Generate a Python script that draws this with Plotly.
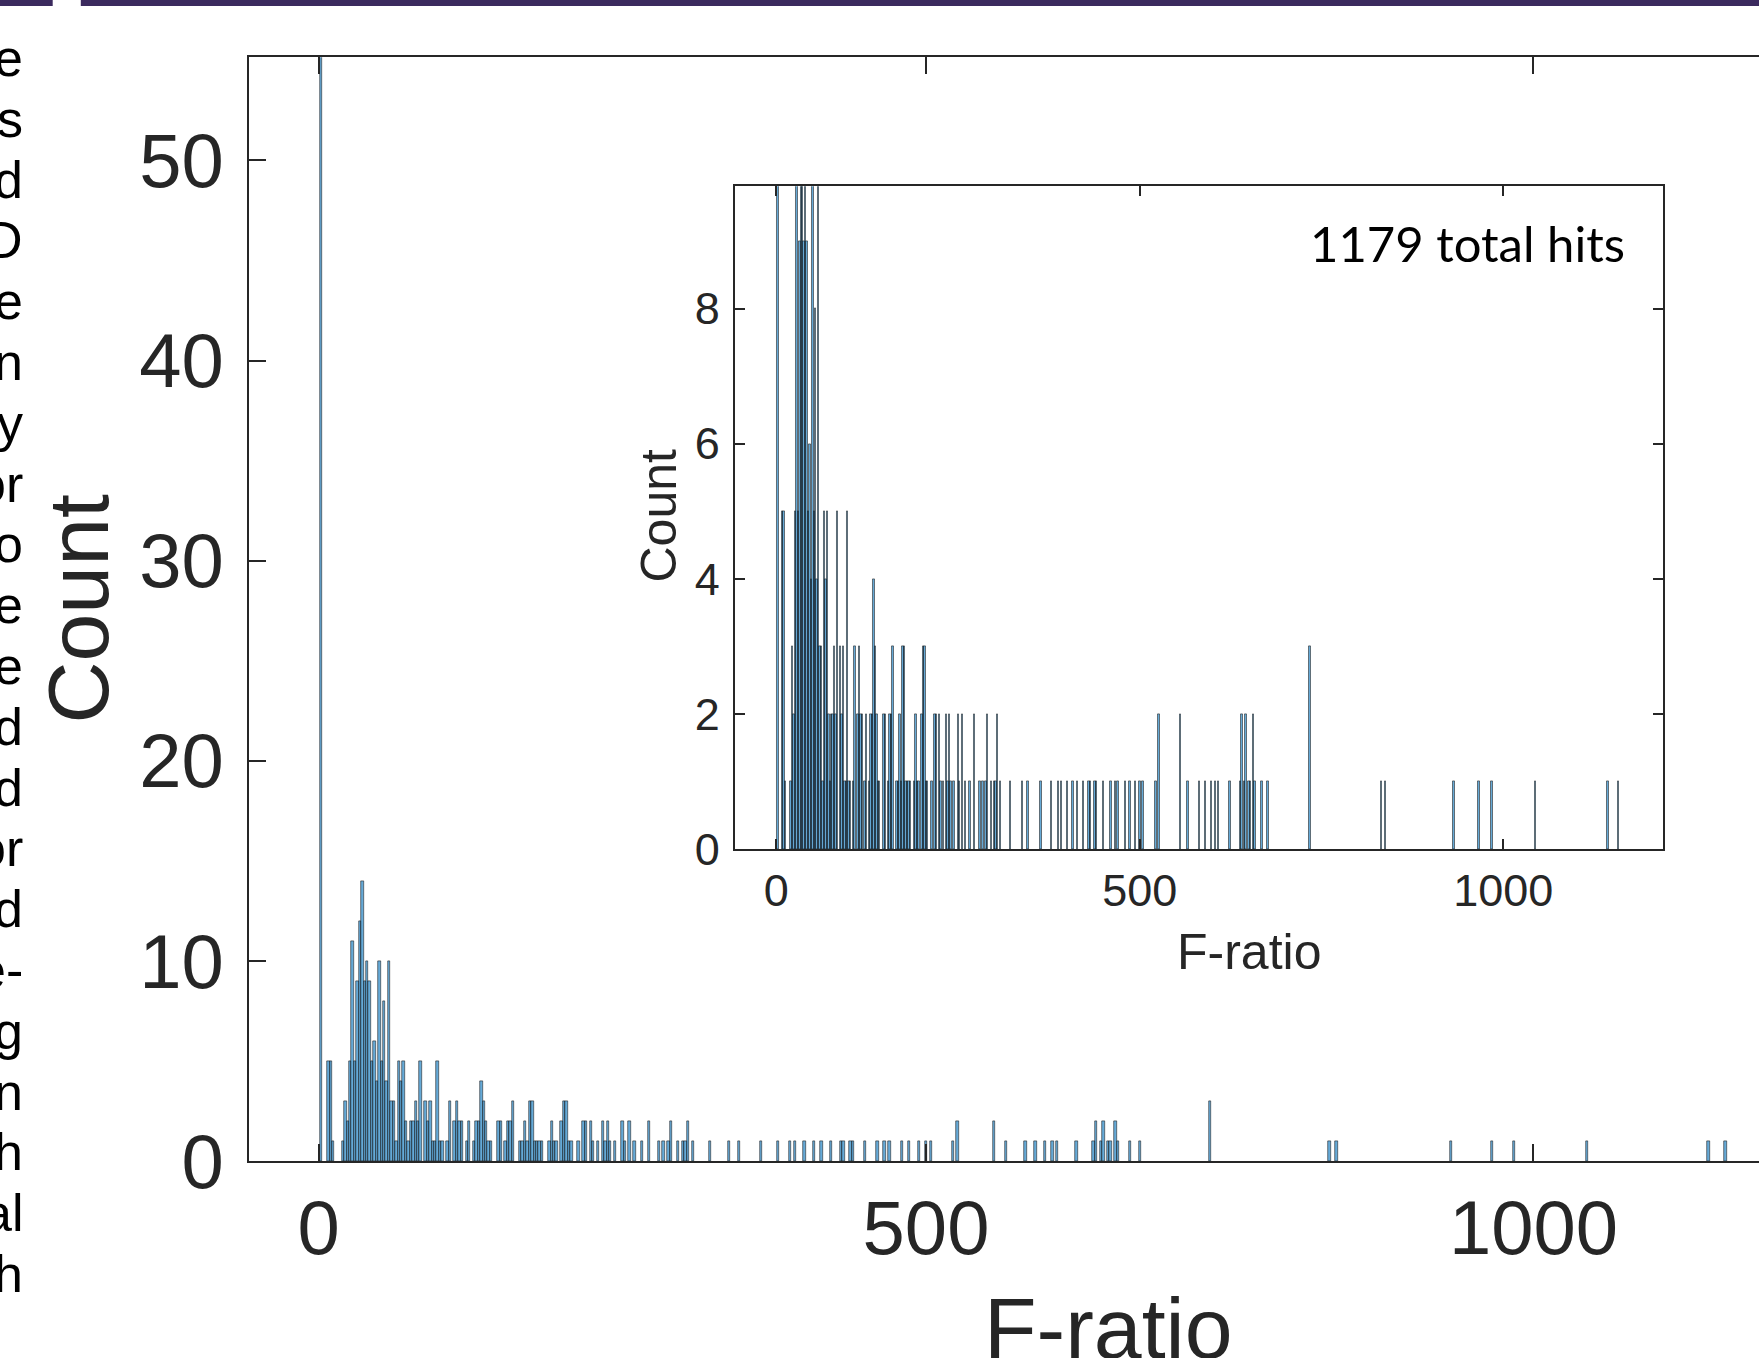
import plotly.graph_objects as go

# ---------------- data (histogram of F-ratio, bin width 2) ----------------
bin_centers = [2, 8, 10, 12,
               20, 22, 24, 26, 28, 30, 32, 34, 36, 38, 40, 42, 44, 46, 48, 50, 52, 54, 56, 58, 60,
               62, 64, 66, 68, 70, 72, 74, 76, 78, 80, 82, 84,
               88, 90, 92, 94, 96, 98, 100, 102, 106, 108, 112, 114, 116, 118, 122, 124, 128, 130,
               132, 134, 136, 138, 140, 142,
               148, 150, 154, 156, 158, 160, 166, 168, 170, 172, 174, 176, 178, 180, 182, 184,
               190, 192, 194, 196, 200, 202, 204, 206, 208, 214, 218, 220, 224, 226, 230, 234,
               236, 238, 240, 244, 250, 252, 256, 260, 266, 272, 280, 284, 288, 290, 296, 300,
               302, 304, 308,
               322, 338, 346, 364, 378, 388, 392, 400, 408, 414, 422, 430, 432, 438, 440, 450,
               460, 466, 470, 480, 486, 494, 500, 504, 522, 526, 556, 566, 582, 590, 598, 604,
               608, 624, 638, 640, 644, 646, 650, 652, 656, 658, 668, 676, 734,
               832, 838, 932, 966, 984, 1044, 1144, 1158]
counts = [801, 5, 5, 1,
          1, 3, 2, 5, 11, 5, 9, 12, 14, 9, 10, 9, 5, 6, 4, 10, 5, 8, 4, 10, 3,
          3, 1, 5, 4, 5, 2, 1, 2, 2, 3, 2, 5,
          3, 2, 3, 1, 1, 5, 1, 1, 1, 3, 2, 3, 2, 2, 1, 2, 1, 2,
          2, 4, 3, 2, 1, 1,
          2, 2, 1, 2, 2, 3, 1, 1, 2, 1, 3, 3, 1, 1, 1, 1,
          1, 2, 1, 1, 2, 3, 3, 1, 1, 1, 2, 2, 2, 1, 1, 2,
          1, 2, 1, 1, 2, 1, 2, 1, 1, 2, 1, 1, 1, 2, 1, 1,
          1, 2, 1,
          1, 1, 1, 1, 1, 1, 1, 1, 1, 1, 1, 1, 1, 1, 1, 1,
          1, 1, 1, 1, 1, 1, 1, 1, 1, 2, 2, 1, 1, 1, 1, 1,
          1, 1, 1, 2, 1, 2, 1, 1, 2, 1, 1, 1, 3,
          1, 1, 1, 1, 1, 1, 1, 1]
bin_width = 2

main_xticks = [0, 500, 1000]
main_yticks = [0, 10, 20, 30, 40, 50]
inset_xticks = [0, 500, 1000]
inset_yticks = [0, 2, 4, 6, 8]

main_xlabel = "F-ratio"
main_ylabel = "Count"
inset_xlabel = "F-ratio"
inset_ylabel = "Count"
inset_note = "1179 total hits"

# right-hand ends of the neighbouring page text (cut off at the left edge)
margin_words = ["e", "s", "d", "D", "e", "n", "y", "or", "o", "e", "e",
                "d", "d", "or", "d", "e-", "g", "n", "h", "al", "h"]

# ---------------- layout helpers ----------------
W, H = 1759, 1358


def px(x):
    return x / W


def py(y):
    return 1 - y / H


INK = "#262626"
FONT = "Liberation Sans, Arial, sans-serif"

bar_style = dict(
    marker=dict(color="rgba(0,114,189,0.6)",
                line=dict(color="rgba(20,20,20,0.9)", width=0.6)),
    hoverinfo="skip",
)

fig = go.Figure()
fig.add_trace(go.Bar(x=bin_centers, y=counts, width=bin_width,
                     xaxis="x", yaxis="y", **bar_style))
fig.add_trace(go.Bar(x=bin_centers, y=counts, width=bin_width,
                     xaxis="x2", yaxis="y2", **bar_style))

axis_common = dict(showline=True, linecolor=INK, linewidth=2,
                   ticks="inside", tickcolor=INK, tickwidth=2,
                   showgrid=False, zeroline=False, automargin=False)

fig.update_layout(
    width=W, height=H, autosize=False,
    margin=dict(l=0, r=0, t=0, b=0, pad=0, autoexpand=False),
    paper_bgcolor="white", plot_bgcolor="white",
    showlegend=False, bargap=0,
    xaxis=dict(domain=[px(249), 1.0], range=[-57.3, 1185.7],
               tickvals=main_xticks, ticklen=17, mirror="ticks", anchor="y",
               tickfont=dict(family=FONT, size=76, color=INK),
               ticklabelstandoff=0, **axis_common),
    yaxis=dict(domain=[py(1161.1), py(57.2)], range=[0, 55.16],
               tickvals=main_yticks, ticklen=17, mirror=False, anchor="x",
               tickfont=dict(family=FONT, size=76, color=INK),
               ticklabelstandoff=8, **axis_common),
    xaxis2=dict(domain=[px(734.8), px(1662.5)], range=[-57.1, 1219],
                tickvals=inset_xticks, ticklen=10, mirror="ticks", anchor="y2",
                tickfont=dict(family=FONT, size=45, color=INK),
                ticklabelstandoff=1, **axis_common),
    yaxis2=dict(domain=[py(849.2), py(186.2)], range=[0, 9.81],
                tickvals=inset_yticks, ticklen=10, mirror="ticks", anchor="x2",
                tickfont=dict(family=FONT, size=45, color=INK),
                ticklabelstandoff=4, **axis_common),
)

annotations = [
    dict(text=main_ylabel, x=px(78), y=py(608.6), textangle=-90,
         font=dict(family=FONT, size=86, color=INK)),
    dict(text=main_xlabel, x=px(1108), y=py(1328), textangle=0,
         font=dict(family=FONT, size=86, color=INK)),
    dict(text=inset_ylabel, x=px(658.5), y=py(516), textangle=-90,
         font=dict(family=FONT, size=50, color=INK)),
    dict(text=inset_xlabel, x=px(1248.6), y=py(951.7), textangle=0,
         font=dict(family=FONT, size=50, color=INK)),
]
for a in annotations:
    a.update(xref="paper", yref="paper", xanchor="center", yanchor="middle",
             showarrow=False)

annotations.append(dict(text=inset_note, x=px(1627), y=py(243), xref="paper",
                        yref="paper", xanchor="right", yanchor="middle",
                        showarrow=False,
                        font=dict(family="Lato, Open Sans, sans-serif", size=49,
                                  color="black")))

for i, w in enumerate(margin_words):
    annotations.append(dict(text=w, x=px(25), y=py(58 + 60.8 * i),
                            xref="paper", yref="paper", xanchor="right",
                            yanchor="middle", showarrow=False,
                            font=dict(family=FONT, size=52, color="black")))

fig.update_layout(annotations=annotations)

# purple rule at the top of the page
shapes = [
    dict(type="rect", xref="paper", yref="paper", x0=0, x1=px(52.7),
         y0=py(6), y1=1, fillcolor="#3B2A5E", line=dict(width=0)),
    dict(type="rect", xref="paper", yref="paper", x0=px(80.8), x1=1,
         y0=py(6), y1=1, fillcolor="#3B2A5E", line=dict(width=0)),
]
fig.update_layout(shapes=shapes)

fig.write_html("out.html")
